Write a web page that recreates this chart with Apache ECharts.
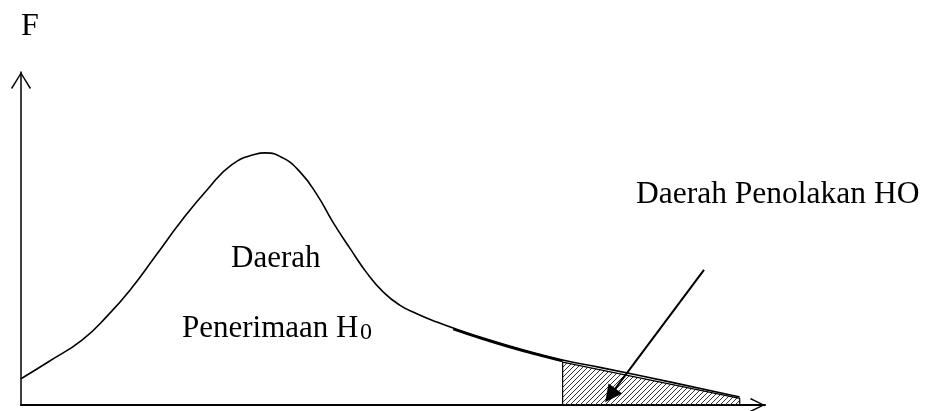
<!DOCTYPE html>
<html>
<head>
<meta charset="utf-8">
<script src="https://cdn.jsdelivr.net/npm/echarts@6/dist/echarts.min.js"></script>
<style>
  html, body { margin: 0; padding: 0; background: #fff; }
  #chart { width: 927px; height: 411px; }
</style>
</head>
<body>
<div id="chart"></div>
<script>
// curve of the F distribution (x 0..100, y 0..100)
var curveX = [0, 3.7, 8.2, 11.7, 14.9, 18.0, 21.6, 25.2, 28.3, 31.5, 32.8, 35.2, 37.5, 39.8, 41.9, 44.2, 46.5, 48.7, 50.9, 53.2, 55.9, 58.1, 63.0, 67.1, 72.8, 77.8, 87.5, 96.6];
var curveY = [7.9, 13.0, 19.5, 27.0, 35.2, 44.5, 55.4, 65.1, 72.1, 75.3, 75.7, 74.2, 70.0, 63.1, 55.0, 47.1, 39.6, 33.9, 30.0, 27.4, 24.9, 23.1, 19.5, 16.8, 13.5, 11.3, 6.8, 2.4];
// thick retraced piece of the tail
var retraceX = [58.1, 63.0, 67.1, 72.8];
var retraceY = [22.8, 19.2, 16.5, 13.2];
// rejection region (hatched)
var rejectX = [72.8, 72.8, 96.6, 96.6];
var rejectY = [0, 12.9, 2.0, 0];
// pointer arrow from label to region
var pointerFrom = [91.8, 40.6];
var pointerTo = [79.2, 2.9];

var titleY = 'F';
var labelAccept1 = 'Daerah';
var labelAccept2 = 'Penerimaan H';
var labelAcceptSub = '0';
var labelReject = 'Daerah Penolakan HO';

function zip(xs, ys) {
    var out = [];
    for (var i = 0; i < xs.length; i++) {
        out.push([xs[i], ys[i]]);
    }
    return out;
}

// diagonal hatch tile
var tile = document.createElement('canvas');
tile.width = 5;
tile.height = 5;
var ctx = tile.getContext('2d');
ctx.strokeStyle = '#333';
ctx.lineWidth = 1;
ctx.beginPath();
ctx.moveTo(-1, 6); ctx.lineTo(6, -1);
ctx.moveTo(-1, 1); ctx.lineTo(1, -1);
ctx.moveTo(4, 6); ctx.lineTo(6, 4);
ctx.stroke();

var serif = "'Liberation Serif', 'Times New Roman', serif";

var chart = echarts.init(document.getElementById('chart'), null, { renderer: 'canvas' });

var option = {
    backgroundColor: '#fff',
    animation: false,
    grid: { left: 21, right: 162, top: 72, bottom: 6 },
    xAxis: {
        type: 'value',
        min: 0,
        max: 100,
        splitLine: { show: false },
        axisTick: { show: false },
        axisLabel: { show: false },
        axisLine: {
            lineStyle: { color: '#000', width: 2 },
            symbol: ['none', 'path://M7,0 L14,14 L12.8,15 L7,2.8 L1.2,15 L0,14 Z'],
            symbolSize: [14, 15],
            symbolOffset: [0, -7.5]
        }
    },
    yAxis: {
        type: 'value',
        min: 0,
        max: 100,
        splitLine: { show: false },
        axisTick: { show: false },
        axisLabel: { show: false },
        axisLine: {
            lineStyle: { color: '#000', width: 1.5 },
            symbol: ['none', 'path://M10,0 L20,16 L18.8,17 L10,2.6 L1.2,17 L0,16 Z'],
            symbolSize: [20, 17],
            symbolOffset: [0, -8.5]
        }
    },
    graphic: [
        { type: 'text', left: 21, top: 11, style: { text: titleY, font: '32px ' + serif, fill: '#000' } },
        { type: 'text', left: 231, top: 243, style: { text: labelAccept1, font: '31px ' + serif, fill: '#000' } },
        { type: 'text', left: 182, top: 313, style: { text: labelAccept2, font: '31px ' + serif, fill: '#000' } },
        { type: 'text', left: 360, top: 321, style: { text: labelAcceptSub, font: '24px ' + serif, fill: '#000' } },
        { type: 'text', left: 636, top: 179, style: { text: labelReject, font: '31.5px ' + serif, fill: '#000' } }
    ],
    series: [
        {
            name: 'reject',
            type: 'line',
            data: zip(rejectX, rejectY),
            showSymbol: false,
            symbol: 'none',
            lineStyle: { color: '#000', width: 1.2 },
            areaStyle: { color: { image: tile, repeat: 'repeat' }, opacity: 1 },
            z: 2
        },
        {
            name: 'curve',
            type: 'line',
            data: zip(curveX, curveY),
            smooth: 0.5,
            symbol: 'none',
            lineStyle: { color: '#000', width: 1.6 },
            z: 3
        },
        {
            name: 'retrace',
            type: 'line',
            data: zip(retraceX, retraceY),
            smooth: 0.3,
            symbol: 'none',
            lineStyle: { color: '#000', width: 2.5 },
            z: 3
        },
        {
            name: 'pointer',
            type: 'lines',
            coordinateSystem: 'cartesian2d',
            symbol: ['none', 'triangle'],
            symbolSize: 17,
            lineStyle: { color: '#000', width: 2, opacity: 1 },
            data: [{ coords: [pointerFrom, pointerTo] }],
            z: 4
        }
    ]
};

chart.setOption(option);
</script>
</body>
</html>
